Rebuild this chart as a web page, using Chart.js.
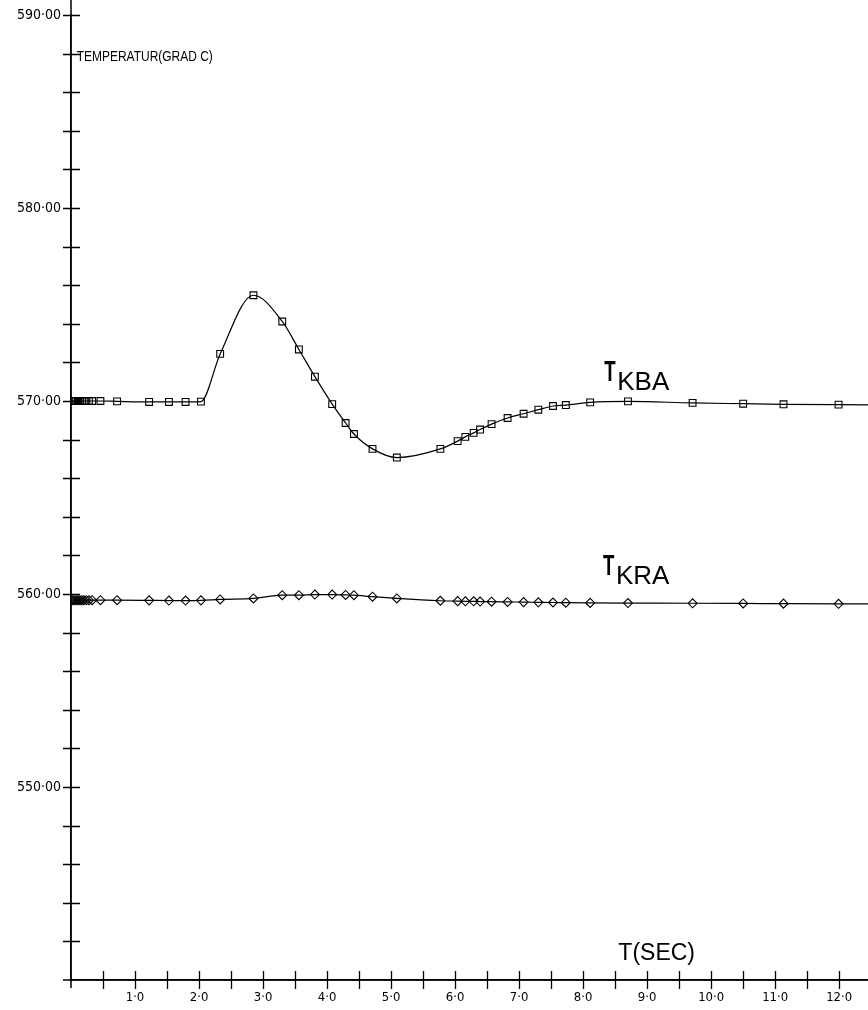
<!DOCTYPE html>
<html>
<head>
<meta charset="utf-8">
<script src="https://cdn.jsdelivr.net/npm/chart.js@4.4.1/dist/chart.umd.min.js"></script>
<style>
  html, body { margin: 0; padding: 0; background: #ffffff; }
  canvas { display: block; }
</style>
</head>
<body>
<canvas id="c" width="868" height="1010"></canvas>
<script>
// ---- data ----
const tSec = [0, 0.02, 0.05, 0.08, 0.11, 0.14, 0.17, 0.20, 0.24, 0.28, 0.33,
  0.46, 0.72, 1.22, 1.53, 1.79, 2.03, 2.33, 2.85, 3.30, 3.56, 3.81, 4.08, 4.29, 4.42,
  4.71, 5.09, 5.77, 6.04, 6.16, 6.29, 6.39, 6.57, 6.82, 7.07, 7.30, 7.53, 7.73, 8.11,
  8.70, 9.71, 10.50, 11.13, 11.99, 12.80];

const tKBA = [570.0, 570.0, 570.0, 570.0, 570.0, 570.0, 570.0, 570.0, 570.0, 570.0, 570.0,
  570.0, 569.98, 569.95, 569.95, 569.95, 569.97, 572.44, 575.48, 574.12, 572.67, 571.26, 569.84, 568.86, 568.29,
  567.52, 567.07, 567.52, 567.92, 568.14, 568.35, 568.52, 568.80, 569.12, 569.34, 569.55, 569.74, 569.79, 569.93,
  569.98, 569.90, 569.86, 569.83, 569.81, 569.80];

const tKRA = [559.68, 559.68, 559.68, 559.68, 559.68, 559.68, 559.68, 559.68, 559.68, 559.68, 559.68,
  559.68, 559.68, 559.67, 559.66, 559.66, 559.67, 559.72, 559.77, 559.94, 559.94, 559.97, 559.97, 559.95, 559.94,
  559.86, 559.77, 559.65, 559.63, 559.62, 559.62, 559.61, 559.60, 559.59, 559.58, 559.57, 559.56, 559.55, 559.54,
  559.53, 559.52, 559.51, 559.50, 559.49, 559.48];

const xRange = [0, 12.45];
const yRange = [540, 590];
const xTickStep = 0.5;
const yTickStep = 2;
const yLabelValues = [590, 580, 570, 560, 550];
const xLabelValues = [1, 2, 3, 4, 5, 6, 7, 8, 9, 10, 11, 12];

const yAxisTitle = "TEMPERATUR(GRAD C)";
const xAxisTitle = "T(SEC)";
const seriesNames = [["T", "KBA"], ["T", "KRA"]];

// ---- drawing ----
const LABEL_FONT = '"DejaVu Sans Condensed", "Liberation Sans Narrow", "DejaVu Sans", sans-serif';
const TEXT_FONT = '"Liberation Sans", Arial, sans-serif';

function pts(ys) { return tSec.map((x, i) => ({ x: x, y: ys[i] })); }

function noPad(s) { s.paddingLeft = 0; s.paddingRight = 0; s.paddingTop = 0; s.paddingBottom = 0; }

const decor = {
  id: 'decor',
  afterDraw(chart) {
    const ctx = chart.ctx;
    const xs = chart.scales.x, ys = chart.scales.y;
    const x0 = xs.getPixelForValue(0), y0 = ys.getPixelForValue(540);
    ctx.save();
    ctx.strokeStyle = '#000';
    ctx.lineWidth = 1.5;
    // axis line extensions
    ctx.beginPath();
    ctx.moveTo(x0, 0); ctx.lineTo(x0, y0 + 8);
    ctx.moveTo(x0 - 8, y0); ctx.lineTo(chart.width, y0);
    ctx.stroke();
    // y tick crosses
    ctx.lineWidth = 1.3;
    ctx.beginPath();
    ys.ticks.forEach(t => {
      const v = t.value;
      if (Math.abs(v / yTickStep - Math.round(v / yTickStep)) > 1e-6) return;
      if (v <= yRange[0]) return;
      const p = Math.round(ys.getPixelForValue(v)) + 0.5;
      ctx.moveTo(x0 - 8, p); ctx.lineTo(x0 + 9, p);
    });
    // x tick crosses
    xs.ticks.forEach(t => {
      const v = t.value;
      if (Math.abs(v / xTickStep - Math.round(v / xTickStep)) > 1e-6) return;
      if (v <= xRange[0]) return;
      const p = Math.round(xs.getPixelForValue(v)) + 0.5;
      ctx.moveTo(p, y0 - 9); ctx.lineTo(p, y0 + 9);
    });
    ctx.stroke();

    ctx.fillStyle = '#000';
    ctx.textBaseline = 'alphabetic';
    ctx.textAlign = 'left';

    // y axis title (condensed)
    ctx.font = '15px ' + TEXT_FONT;
    const tw = ctx.measureText(yAxisTitle).width;
    const sx = 136 / tw;
    ctx.save();
    ctx.translate(xs.getPixelForValue(0.09), ys.getPixelForValue(587.6));
    ctx.scale(sx, 1);
    ctx.fillText(yAxisTitle, 0, 0);
    ctx.restore();

    // x axis title
    ctx.font = '23px ' + TEXT_FONT;
    ctx.fillText(xAxisTitle, xs.getPixelForValue(8.55), ys.getPixelForValue(541.05));

    // series labels
    function seriesLabel(name, xv, yv) {
      const px = xs.getPixelForValue(xv), py = ys.getPixelForValue(yv);
      ctx.save();
      ctx.font = 'bold 30px ' + TEXT_FONT;
      ctx.translate(px, py);
      ctx.scale(0.62, 1);
      ctx.fillText(name[0], 0, 0);
      ctx.restore();
      ctx.font = '26px ' + TEXT_FONT;
      ctx.fillText(name[1], px + 13, py + 9);
    }
    seriesLabel(seriesNames[0], 8.33, 571.05);
    seriesLabel(seriesNames[1], 8.31, 561.0);
    ctx.restore();
  }
};

const bg = {
  id: 'bg',
  beforeDraw(chart) {
    const ctx = chart.ctx;
    ctx.save();
    ctx.fillStyle = '#fff';
    ctx.fillRect(0, 0, chart.width, chart.height);
    ctx.restore();
  }
};

new Chart(document.getElementById('c'), {
  type: 'line',
  data: {
    datasets: [
      {
        label: 'T KBA',
        data: pts(tKBA),
        borderColor: '#000',
        borderWidth: 1.2,
        pointStyle: 'rect',
        pointRadius: 4.8,
        pointBorderWidth: 1.1,
        pointBorderColor: '#000',
        pointBackgroundColor: 'rgba(255,255,255,0)',
        cubicInterpolationMode: 'monotone',
        fill: false
      },
      {
        label: 'T KRA',
        data: pts(tKRA),
        borderColor: '#000',
        borderWidth: 1.2,
        pointStyle: 'rectRot',
        pointRadius: 4.5,
        pointBorderWidth: 1.1,
        pointBorderColor: '#000',
        pointBackgroundColor: 'rgba(255,255,255,0)',
        cubicInterpolationMode: 'monotone',
        fill: false
      }
    ]
  },
  options: {
    responsive: false,
    animation: false,
    devicePixelRatio: 1,
    layout: { autoPadding: false, padding: { top: 15, right: 0, left: 0, bottom: 0 } },
    plugins: { legend: { display: false }, tooltip: { enabled: false } },
    events: [],
    scales: {
      x: {
        type: 'linear',
        min: xRange[0],
        max: xRange[1],
        afterFit(s) { s.height = 30; noPad(s); },
        grid: { display: false, drawTicks: false },
        border: { display: true, color: '#000', width: 1.5 },
        ticks: {
          stepSize: xTickStep,
          includeBounds: false,
          autoSkip: false,
          maxRotation: 0,
          padding: 10,
          color: '#000',
          font: { family: LABEL_FONT, size: 13 },
          callback(v) {
            const hit = xLabelValues.find(q => Math.abs(q - v) < 1e-6);
            return hit === undefined ? '' : hit + '\u00B70';
          }
        }
      },
      y: {
        type: 'linear',
        min: yRange[0],
        max: yRange[1],
        afterFit(s) { s.width = 71; noPad(s); },
        grid: { display: false, drawTicks: false },
        border: { display: true, color: '#000', width: 1.5 },
        ticks: {
          stepSize: yTickStep,
          autoSkip: false,
          padding: 10,
          color: '#000',
          font: { family: LABEL_FONT, size: 14 },
          callback(v) {
            const hit = yLabelValues.find(q => Math.abs(q - v) < 1e-6);
            return hit === undefined ? '' : hit + '\u00B700';
          }
        }
      }
    }
  },
  plugins: [bg, decor]
});
</script>
</body>
</html>
